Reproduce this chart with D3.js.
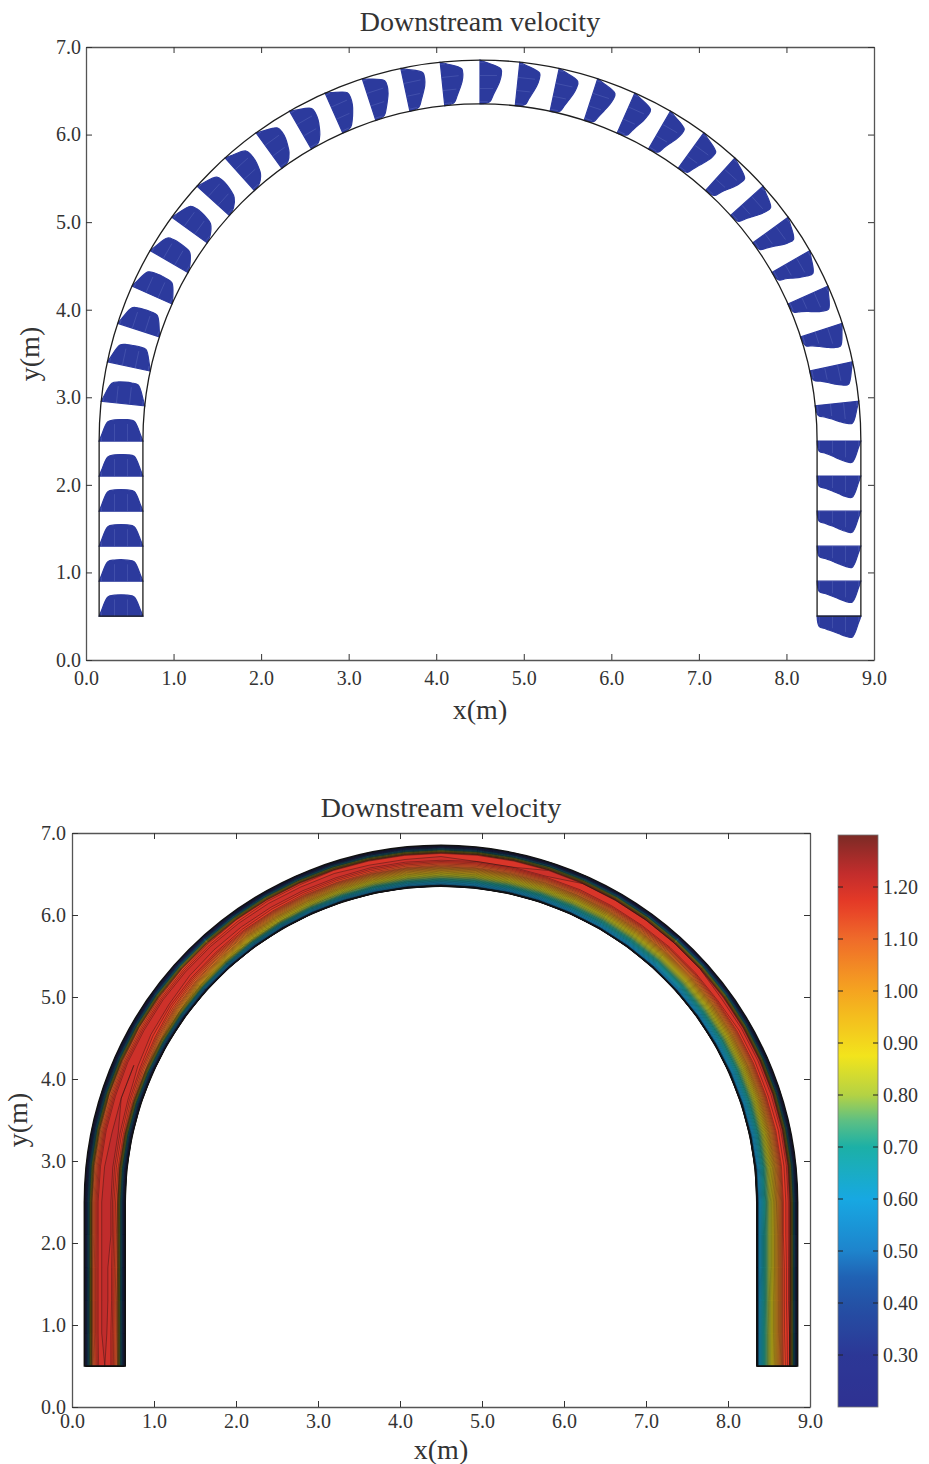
<!DOCTYPE html>
<html lang="en">
  <head>
    <meta charset="UTF-8" />
    <title>Downstream velocity</title>
    <script src="https://d3js.org/d3.v7.min.js"></script>
    <style>
      body { margin: 0; background: #fff; }
      text { font-family: "Liberation Serif", "DejaVu Serif", serif; fill: #333; }
    </style>
  </head>
  <body>
    <script>
      // stations along the flume: left straight (y), bend (degrees), right straight (y)
      let leftY = [0.5, 0.9, 1.3, 1.7, 2.1];
      let bendDeg = [0, 6, 12, 18, 24, 30, 36, 42, 48, 54, 60, 66, 72, 78, 84, 90,
        96, 102, 108, 114, 120, 126, 132, 138, 144, 150, 156, 162, 168, 174, 180];
      let rightY = [2.1, 1.7, 1.3, 0.9, 0.5];
      // transverse positions, fraction of width from inner wall
      let nPos = [0.05, 0.2, 0.35, 0.5, 0.65, 0.8, 0.95];

      // downstream velocity (m/s), inner -> outer
      let uLeft = [
        [0.31, 1.10, 1.20, 1.22, 1.20, 1.10, 0.30],
        [0.31, 1.11, 1.20, 1.23, 1.21, 1.11, 0.31],
        [0.32, 1.11, 1.21, 1.23, 1.21, 1.11, 0.31],
        [0.32, 1.12, 1.21, 1.23, 1.21, 1.11, 0.30],
        [0.32, 1.13, 1.22, 1.23, 1.21, 1.10, 0.30],
      ];
      let uBend = [
        [0.32, 1.14, 1.22, 1.23, 1.21, 1.10, 0.30],
        [0.33, 1.15, 1.22, 1.23, 1.20, 1.09, 0.30],
        [0.34, 1.15, 1.22, 1.22, 1.20, 1.09, 0.30],
        [0.36, 1.13, 1.21, 1.22, 1.20, 1.10, 0.31],
        [0.39, 1.10, 1.19, 1.22, 1.21, 1.11, 0.31],
        [0.42, 1.05, 1.16, 1.21, 1.21, 1.12, 0.31],
        [0.45, 1.00, 1.13, 1.20, 1.22, 1.13, 0.32],
        [0.48, 0.95, 1.10, 1.19, 1.22, 1.14, 0.32],
        [0.50, 0.91, 1.07, 1.18, 1.22, 1.15, 0.32],
        [0.52, 0.87, 1.04, 1.17, 1.22, 1.16, 0.32],
        [0.53, 0.84, 1.02, 1.16, 1.22, 1.17, 0.33],
        [0.54, 0.81, 1.00, 1.15, 1.22, 1.17, 0.33],
        [0.55, 0.79, 0.98, 1.14, 1.22, 1.18, 0.33],
        [0.55, 0.77, 0.96, 1.13, 1.21, 1.18, 0.33],
        [0.55, 0.76, 0.95, 1.12, 1.21, 1.18, 0.33],
        [0.55, 0.75, 0.94, 1.11, 1.21, 1.19, 0.33],
        [0.55, 0.74, 0.93, 1.10, 1.20, 1.19, 0.33],
        [0.55, 0.74, 0.92, 1.09, 1.20, 1.19, 0.34],
        [0.55, 0.73, 0.91, 1.08, 1.20, 1.20, 0.34],
        [0.56, 0.73, 0.90, 1.08, 1.19, 1.20, 0.34],
        [0.56, 0.72, 0.89, 1.07, 1.19, 1.20, 0.34],
        [0.56, 0.72, 0.89, 1.06, 1.19, 1.20, 0.34],
        [0.56, 0.71, 0.88, 1.06, 1.18, 1.20, 0.34],
        [0.56, 0.71, 0.88, 1.05, 1.18, 1.20, 0.34],
        [0.56, 0.71, 0.87, 1.05, 1.18, 1.21, 0.34],
        [0.57, 0.70, 0.87, 1.04, 1.17, 1.21, 0.34],
        [0.57, 0.70, 0.86, 1.04, 1.17, 1.21, 0.34],
        [0.57, 0.70, 0.86, 1.03, 1.17, 1.21, 0.34],
        [0.57, 0.70, 0.86, 1.03, 1.16, 1.21, 0.34],
        [0.57, 0.70, 0.85, 1.02, 1.16, 1.21, 0.34],
        [0.58, 0.70, 0.85, 1.02, 1.16, 1.21, 0.34],
      ];
      let uRight = [
        [0.58, 0.71, 0.85, 1.01, 1.16, 1.21, 0.34],
        [0.58, 0.71, 0.85, 1.01, 1.15, 1.21, 0.35],
        [0.59, 0.71, 0.86, 1.01, 1.15, 1.21, 0.35],
        [0.59, 0.72, 0.86, 1.01, 1.15, 1.20, 0.35],
        [0.59, 0.72, 0.86, 1.00, 1.14, 1.20, 0.35],
      ];

      let xTicks = [0, 1, 2, 3, 4, 5, 6, 7, 8, 9];
      let yTicks = [0, 1, 2, 3, 4, 5, 6, 7];
      let cbTicks = [0.3, 0.4, 0.5, 0.6, 0.7, 0.8, 0.9, 1.0, 1.1, 1.2];

      // flume geometry (m)
      let cx = 4.5, cy = 2.5, rIn = 3.85, rOut = 4.35, rMid = 4.1, yEnd = 0.5;
      let bendLen = Math.PI * rMid;
      let arrowScale = 0.2; // m per (m/s)

      let stations = [];
      leftY.forEach((y, i) => stations.push({ p: y - cy, u: uLeft[i] }));
      bendDeg.forEach((a, i) => stations.push({ p: (a * Math.PI) / 180 * rMid, u: uBend[i] }));
      rightY.forEach((y, i) => stations.push({ p: bendLen + (cy - y), u: uRight[i] }));

      function geom(p, n) {
        if (p < 0) return [cx - rIn - 0.5 * n, cy + p];
        if (p <= bendLen) {
          let t = p / rMid, r = rIn + 0.5 * n;
          return [cx - r * Math.cos(t), cy + r * Math.sin(t)];
        }
        return [cx + rIn + 0.5 * n, cy - (p - bendLen)];
      }
      function tangent(p) {
        if (p < 0) return [0, 1];
        if (p <= bendLen) return [Math.sin(p / rMid), Math.cos(p / rMid)];
        return [0, -1];
      }

      let W = 929, H = 1464;
      let svg = d3.select("body").append("svg").attr("width", W).attr("height", H);
      let fmt = d3.format(".1f");

      function drawAxes(x, y, padX, padY) {
        let a = svg.append("g");
        a.append("g").attr("transform", "translate(0," + y(0) + ")")
          .call(d3.axisBottom(x).tickValues(xTicks).tickFormat(fmt).tickSize(-6).tickSizeOuter(0).tickPadding(padX));
        a.append("g").attr("transform", "translate(0," + y(7) + ")")
          .call(d3.axisTop(x).tickValues(xTicks).tickFormat("").tickSize(-6).tickSizeOuter(0));
        a.append("g").attr("transform", "translate(" + x(0) + ",0)")
          .call(d3.axisLeft(y).tickValues(yTicks).tickFormat(fmt).tickSize(-6).tickSizeOuter(0).tickPadding(padY));
        a.append("g").attr("transform", "translate(" + x(9) + ",0)")
          .call(d3.axisRight(y).tickValues(yTicks).tickFormat("").tickSize(-6).tickSizeOuter(0));
        a.selectAll(".domain").attr("stroke", "#555").attr("stroke-width", 1.3);
        a.selectAll(".tick line").attr("stroke", "#333");
        a.selectAll(".tick text").attr("font-family", "Liberation Serif, serif")
          .attr("font-size", 20).attr("fill", "#333");
      }

      function outlinePath(x, y) {
        let k = x(1) - x(0), p = d3.path();
        let X = x(cx), Y = y(cy);
        p.moveTo(x(cx - rOut), y(yEnd));
        p.lineTo(x(cx - rOut), Y);
        p.arc(X, Y, rOut * k, Math.PI, 2 * Math.PI);
        p.lineTo(x(cx + rOut), y(yEnd));
        p.lineTo(x(cx + rIn), y(yEnd));
        p.lineTo(x(cx + rIn), Y);
        p.arc(X, Y, rIn * k, 2 * Math.PI, Math.PI, true);
        p.lineTo(x(cx - rIn), y(yEnd));
        p.closePath();
        return p.toString();
      }

      // ---------- top panel: velocity vectors ----------
      let xA = d3.scaleLinear().domain([0, 9]).range([86, 874]);
      let yA = d3.scaleLinear().domain([0, 7]).range([660, 47]);

      let tipLine = d3.line().curve(d3.curveCatmullRom.alpha(0.5));
      let gA = svg.append("g");
      stations.forEach((s) => {
        let t = tangent(s.p);
        let pts = [geom(s.p, 0)];
        let shafts = [];
        s.u.forEach((u, j) => {
          let b = geom(s.p, nPos[j]);
          let tip = [b[0] + t[0] * u * arrowScale, b[1] + t[1] * u * arrowScale];
          pts.push(tip);
          shafts.push([b, tip]);
        });
        pts.push(geom(s.p, 1));
        let scr = pts.map((d) => [xA(d[0]), yA(d[1])]);
        gA.append("path").attr("d", tipLine(scr) + "Z")
          .attr("fill", "#2c3a9d").attr("stroke", "#2c3a9d").attr("stroke-width", 1.2);
        shafts.forEach((sh, j) => {
          if (j % 2 === 1) return;
          gA.append("line")
            .attr("x1", xA(sh[0][0])).attr("y1", yA(sh[0][1]))
            .attr("x2", xA(sh[0][0] + (sh[1][0] - sh[0][0]) * 0.8))
            .attr("y2", yA(sh[0][1] + (sh[1][1] - sh[0][1]) * 0.8))
            .attr("stroke", "#6a78c6").attr("stroke-width", 0.7).attr("opacity", 0.5);
        });
      });
      svg.append("path").attr("d", outlinePath(xA, yA))
        .attr("fill", "none").attr("stroke", "#1e1e1e").attr("stroke-width", 1.3);
      drawAxes(xA, yA, 11, 5);

      svg.append("text").attr("x", 480).attr("y", 31).attr("text-anchor", "middle")
        .attr("font-size", 28).text("Downstream velocity");
      svg.append("text").attr("x", 480).attr("y", 719).attr("text-anchor", "middle")
        .attr("font-size", 28).text("x(m)");
      svg.append("text").attr("transform", "translate(39,354) rotate(-90)")
        .attr("text-anchor", "middle").attr("font-size", 28).text("y(m)");

      // ---------- bottom panel: filled contours ----------
      let xB = d3.scaleLinear().domain([0, 9]).range([72, 810]);
      let yB = d3.scaleLinear().domain([0, 7]).range([1407, 833]);

      let color = d3.scaleLinear()
        .domain([0.2, 0.3, 0.4, 0.45, 0.5, 0.6, 0.7, 0.75, 0.8, 0.875, 1.0, 1.1, 1.17, 1.23, 1.3])
        .range(["#2e3192", "#2c3796", "#2452a6", "#2062b4", "#1e84cc", "#17a8e2", "#1cb0a6", "#5cbf84",
          "#b4d244", "#f2e41c", "#f5a420", "#ef6b2a", "#e63a27", "#c02c2c", "#7b2b25"])
        .clamp(true);

      let cols = [0].concat(nPos, [1]);
      let nc = cols.length, nr = stations.length;
      let values = [];
      stations.forEach((s) => values.push(0, ...s.u, 0));

      function gridToXY(c, r) {
        let u = Math.max(0, Math.min(nc - 1, c - 0.5));
        let j = Math.min(nc - 2, Math.floor(u));
        let n = cols[j] + (u - j) * (cols[j + 1] - cols[j]);
        let v = Math.max(0, Math.min(nr - 1, r - 0.5));
        let i = Math.min(nr - 2, Math.floor(v));
        let p = stations[i].p + (v - i) * (stations[i + 1].p - stations[i].p);
        return geom(p, n);
      }
      let proj = d3.geoTransform({
        point: function (c, r) {
          let g = gridToXY(c, r);
          this.stream.point(xB(g[0]), yB(g[1]));
        },
      });
      let geoPath = d3.geoPath(proj);
      let levels = d3.range(0.02, 1.3, 0.02);
      let contours = d3.contours().size([nc, nr]).thresholds(levels)(values);

      svg.append("path").attr("d", outlinePath(xB, yB)).attr("fill", "#141414");
      svg.append("g").selectAll("path").data(contours).join("path")
        .attr("d", geoPath)
        .attr("fill", (d) => color(d.value + 0.01))
        .attr("stroke", "#111").attr("stroke-width", 0.45).attr("stroke-opacity", 0.85);
      svg.append("path").attr("d", outlinePath(xB, yB))
        .attr("fill", "none").attr("stroke", "#111").attr("stroke-width", 1.4);
      drawAxes(xB, yB, 7, 6);

      svg.append("text").attr("x", 441).attr("y", 817).attr("text-anchor", "middle")
        .attr("font-size", 28).text("Downstream velocity");
      svg.append("text").attr("x", 441).attr("y", 1459).attr("text-anchor", "middle")
        .attr("font-size", 28).text("x(m)");
      svg.append("text").attr("transform", "translate(27,1120) rotate(-90)")
        .attr("text-anchor", "middle").attr("font-size", 28).text("y(m)");

      // ---------- colour bar ----------
      let cb = d3.scaleLinear().domain([0.2, 1.3]).range([1407, 835]);
      let grad = svg.append("defs").append("linearGradient").attr("id", "cbgrad")
        .attr("x1", 0).attr("y1", 1).attr("x2", 0).attr("y2", 0);
      d3.range(0.2, 1.3001, 0.025).forEach((v) => {
        grad.append("stop").attr("offset", (v - 0.2) / 1.1).attr("stop-color", color(v));
      });
      svg.append("rect").attr("x", 838).attr("y", 835).attr("width", 40).attr("height", 572)
        .attr("fill", "url(#cbgrad)").attr("stroke", "#777").attr("stroke-width", 0.8);
      let cbg = svg.append("g");
      cbTicks.forEach((t) => {
        cbg.append("line").attr("x1", 838).attr("x2", 843).attr("y1", cb(t)).attr("y2", cb(t))
          .attr("stroke", "#222");
        cbg.append("line").attr("x1", 873).attr("x2", 878).attr("y1", cb(t)).attr("y2", cb(t))
          .attr("stroke", "#222");
        cbg.append("text").attr("x", 883).attr("y", cb(t)).attr("dy", "0.35em")
          .attr("font-size", 20).text(d3.format(".2f")(t));
      });
    </script>
  </body>
</html>
